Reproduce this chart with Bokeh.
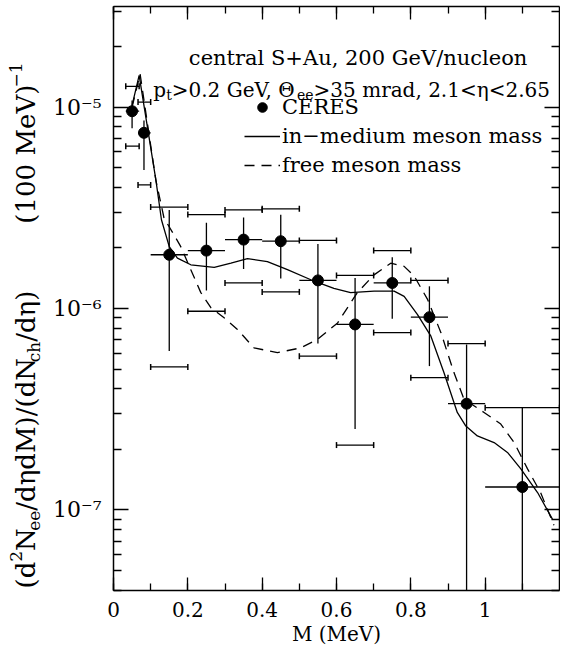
import math
from bokeh.plotting import figure
from bokeh.layouts import row
from bokeh.models import (ColumnDataSource, Range1d, LogAxis, LinearAxis, FixedTicker,
                          SingleIntervalTicker, CustomJSTickFormatter, Label, Legend, LegendItem)
from bokeh.core.properties import value
from bokeh.embed import file_html
from bokeh.resources import INLINE

# ---------------- data ----------------
mass    = [0.05, 0.082, 0.15, 0.25, 0.35, 0.45, 0.55, 0.65, 0.75, 0.85, 0.95, 1.10]
rate    = [9.55e-6, 7.46e-6, 1.85e-6, 1.94e-6, 2.20e-6, 2.16e-6, 1.38e-6, 8.34e-7, 1.34e-6, 9.06e-7, 3.37e-7, 1.30e-7]
stat_hi = [1.08e-5, 8.6e-6, 3.09e-6, 2.67e-6, 2.83e-6, 2.92e-6, 2.09e-6, 1.42e-6, 1.80e-6, 1.29e-6, 6.64e-7, 3.22e-7]
stat_lo = [7.87e-6, 4.88e-6, 6.15e-7, 1.23e-6, 1.57e-6, 1.41e-6, 6.70e-7, 2.52e-7, 8.90e-7, 5.18e-7, 1.0e-8, 1.0e-8]
sys_hi  = [1.27e-5, 1.06e-5, 3.19e-6, 2.93e-6, 3.09e-6, 3.13e-6, 2.18e-6, 1.46e-6, 1.94e-6, 1.38e-6, 6.70e-7, 3.22e-7]
sys_lo  = [6.4e-6, 4.11e-6, 5.13e-7, 9.7e-7, 1.34e-6, 1.21e-6, 5.8e-7, 2.1e-7, 7.6e-7, 4.54e-7, 1.0e-8, 1.0e-8]
bin_lo  = [0.033, 0.066, 0.10, 0.20, 0.30, 0.40, 0.50, 0.60, 0.70, 0.80, 0.90, 1.00]
bin_hi  = [0.069, 0.100, 0.20, 0.30, 0.40, 0.50, 0.60, 0.70, 0.80, 0.90, 1.00, 1.20]

inmed_m = [0.05, 0.069, 0.114, 0.129, 0.150, 0.172, 0.208, 0.271, 0.316, 0.3605, 0.414, 0.468,
           0.531, 0.593, 0.638, 0.701, 0.755, 0.782, 0.818, 0.854, 0.889, 0.925, 0.948, 0.979,
           1.024, 1.060, 1.096, 1.141, 1.181]
inmed_v = [1.02e-5, 1.44e-5, 4.36e-6, 2.76e-6, 2.03e-6, 1.78e-6, 1.65e-6, 1.60e-6, 1.68e-6, 1.77e-6,
           1.71e-6, 1.56e-6, 1.39e-6, 1.26e-6, 1.20e-6, 1.22e-6, 1.22e-6, 1.15e-6, 9.33e-7, 7.29e-7,
           4.81e-7, 3.05e-7, 2.61e-7, 2.33e-7, 2.16e-7, 1.93e-7, 1.60e-7, 1.22e-7, 9.0e-8]

free_m = [0.05, 0.0716, 0.1138, 0.136, 0.163, 0.181, 0.208, 0.235, 0.262, 0.2976, 0.3336, 0.378,
          0.441, 0.504, 0.549, 0.603, 0.656, 0.701, 0.746, 0.782, 0.809, 0.845, 0.881, 0.916,
          0.943, 0.997, 1.042, 1.078, 1.114, 1.149, 1.185]
free_v = [1.0e-5, 1.46e-5, 4.36e-6, 2.81e-6, 2.32e-6, 2.03e-6, 1.56e-6, 1.20e-6, 1.01e-6, 9.0e-7,
          7.87e-7, 6.38e-7, 6.04e-7, 6.38e-7, 7.03e-7, 8.49e-7, 1.20e-6, 1.47e-6, 1.68e-6, 1.62e-6,
          1.45e-6, 1.11e-6, 7.59e-7, 4.81e-7, 3.55e-7, 3.05e-7, 2.67e-7, 2.16e-7, 1.60e-7, 1.22e-7, 8.4e-8]

y_major_ticks = [1e-7, 1e-6, 1e-5]
y_minor_ticks = [k * 10.0 ** e for e in (-8, -7, -6, -5) for k in range(2, 10)]

title_line1 = "central S+Au, 200 GeV/nucleon"
cuts_pieces = [("p", "main"), ("t", "sub"), (">0.2 GeV, \u0398", "main"), ("ee", "sub"),
               (">35 mrad, 2.1<\u03b7<2.65", "main")]
ylabel_a = [("(d", "main"), ("2", "sup"), ("N", "main"), ("ee", "sub"), ("/d\u03b7dM)/(dN", "main"),
            ("ch", "sub"), ("/d\u03b7)", "main")]
ylabel_b = [("(100 MeV)", "main"), ("\u22121", "sup")]
x_title = "M (MeV)"

# ---------------- layout ----------------
FONT = "DejaVu Serif"
TOTAL_W, TOTAL_H = 560, 648
LW = 50                                   # width of the strip holding the rotated y title
FRAME_L, FRAME_T, FRAME_W, FRAME_H = 113, 6, 446, 584   # frame position in page pixels
BORDER_B = TOTAL_H - FRAME_T - FRAME_H
X_MIN, X_MAX = 0.0, 1.2
LOG_MIN, LOG_MAX = -7.4, -4.5


def dx(px):
    return X_MIN + (px - FRAME_L) / FRAME_W * (X_MAX - X_MIN)


def dy(py):
    return 10 ** (LOG_MAX - (py - FRAME_T) / FRAME_H * (LOG_MAX - LOG_MIN))


EM = {' ': .318, '(': .390, ')': .390, '/': .337, '.': .318, ',': .318, '+': .838, '<': .838,
      '>': .838, '\u2212': .838, '-': .338, 'A': .722, 'C': .733, 'E': .685, 'G': .778, 'M': .913,
      'N': .772, 'R': .770, 'S': .686, 'V': .722, '\u0398': .787, 'a': .602, 'c': .552, 'd': .641,
      'e': .593, 'h': .647, 'i': .320, 'l': .320, 'm': .968, 'n': .647, 'o': .602, 'p': .641,
      'r': .490, 's': .514, 't': .401, 'u': .647, '\u03b7': .647}
for ch_ in "0123456789":
    EM[ch_] = .636


def text_w(s, size):
    return sum(EM.get(c, .6) for c in s) * size


MAIN_W = TOTAL_W - LW
p = figure(width=MAIN_W, height=TOTAL_H, output_backend="svg", toolbar_location=None,
           x_range=Range1d(X_MIN, X_MAX), y_range=Range1d(10 ** LOG_MIN, 10 ** LOG_MAX),
           y_axis_type="log", min_border_left=FRAME_L - LW,
           min_border_right=MAIN_W - (FRAME_L - LW) - FRAME_W,
           min_border_top=FRAME_T, min_border_bottom=BORDER_B)
p.xgrid.visible = False
p.ygrid.visible = False
p.outline_line_color = None
p.background_fill_color = "white"
p.border_fill_color = "white"

x_fmt_code = "return String(Math.round(tick * 10) / 10);"
y_fmt_code = """
const e = Math.round(Math.log10(tick));
const m = {"-": "\\u207b", "0": "\\u2070", "1": "\\u00b9", "2": "\\u00b2", "3": "\\u00b3",
           "4": "\\u2074", "5": "\\u2075", "6": "\\u2076", "7": "\\u2077", "8": "\\u2078", "9": "\\u2079"};
return "10" + String(e).split("").map(c => m[c]).join("");
"""


def style_axis(ax, major, minor):
    ax.axis_line_color = "black"
    ax.axis_line_width = 1.5
    ax.major_tick_line_color = "black"
    ax.minor_tick_line_color = "black"
    ax.major_tick_line_width = 1.3
    ax.minor_tick_line_width = 1.3
    ax.major_tick_in = major
    ax.major_tick_out = 0
    ax.minor_tick_in = minor
    ax.minor_tick_out = 0
    ax.major_label_text_font = FONT
    ax.major_label_text_color = "black"


xa = p.xaxis[0]
xa.ticker = SingleIntervalTicker(interval=0.2, num_minor_ticks=2)
xa.formatter = CustomJSTickFormatter(code=x_fmt_code)
style_axis(xa, 13, 7)
xa.major_label_text_font_size = "20px"
xa.major_label_standoff = 11
xa.axis_label = x_title
xa.axis_label_text_font = FONT
xa.axis_label_text_font_size = "20px"
xa.axis_label_text_font_style = "normal"
xa.axis_label_text_color = "black"
xa.axis_label_standoff = 2

ya = p.yaxis[0]
ya.ticker = FixedTicker(ticks=y_major_ticks, minor_ticks=y_minor_ticks)
ya.formatter = CustomJSTickFormatter(code=y_fmt_code)
style_axis(ya, 15, 8)
ya.major_label_text_font_size = "22px"
ya.major_label_standoff = 12

ra = LogAxis(ticker=FixedTicker(ticks=y_major_ticks, minor_ticks=y_minor_ticks),
             formatter=CustomJSTickFormatter(code="return '';"))
style_axis(ra, 15, 8)
ra.major_label_text_font_size = "0px"
ra.major_label_standoff = 0
p.add_layout(ra, "right")

ta = LinearAxis(ticker=SingleIntervalTicker(interval=0.2, num_minor_ticks=2),
                formatter=CustomJSTickFormatter(code="return '';"))
style_axis(ta, 13, 7)
ta.major_label_text_font_size = "0px"
ta.major_label_standoff = 0
p.add_layout(ta, "above")

# ---------------- data glyphs ----------------
src = ColumnDataSource(dict(mass=mass, rate=rate, stat_hi=stat_hi, stat_lo=stat_lo,
                            sys_hi=sys_hi, sys_lo=sys_lo, bin_lo=bin_lo, bin_hi=bin_hi))
seg_kw = dict(source=src, line_color="black", line_width=1.3)
p.segment(x0="mass", y0="stat_lo", x1="mass", y1="stat_hi", **seg_kw)
p.segment(x0="bin_lo", y0="rate", x1="bin_hi", y1="rate", **seg_kw)
p.segment(x0="bin_lo", y0="sys_hi", x1="bin_hi", y1="sys_hi", **seg_kw)
p.segment(x0="bin_lo", y0="sys_lo", x1="bin_hi", y1="sys_lo", **seg_kw)
for xc, yc in (("bin_lo", "sys_hi"), ("bin_hi", "sys_hi"), ("bin_lo", "sys_lo"), ("bin_hi", "sys_lo")):
    p.scatter(x=xc, y=yc, source=src, marker="dash", angle=math.pi / 2, size=6,
              line_color="black", line_width=1.5)

r_inmed = p.line(inmed_m, inmed_v, line_color="black", line_width=1.3)
r_free = p.line(free_m, free_v, line_color="black", line_width=1.3, line_dash="10 7")
r_pts = p.scatter(x="mass", y="rate", source=src, size=11, fill_color="black", line_color="black")

# ---------------- legend ----------------
legend = Legend(items=[LegendItem(label="CERES", renderers=[r_pts]),
                       LegendItem(label="in\u2212medium meson mass", renderers=[r_inmed]),
                       LegendItem(label="free meson mass", renderers=[r_free])],
                location=(131, 413), label_text_font=FONT, label_text_font_size="21px",
                label_text_color="black", glyph_width=36, glyph_height=24, label_height=24,
                label_standoff=2, spacing=5, padding=0, margin=0, border_line_color=None,
                background_fill_alpha=0)
p.add_layout(legend)

# ---------------- texts in the frame ----------------
p.add_layout(Label(x=dx(357.6), y=dy(57), text=title_line1, text_font=FONT, text_font_size="21px",
                   text_align="center", text_baseline="alphabetic", text_color="black"))

SIZES = {"main": 20, "sub": 14, "sup": 14}
SHIFT = {"main": 0, "sub": 5, "sup": -8}
total = sum(text_w(t, SIZES[k]) for t, k in cuts_pieces)
cur = 352 - total / 2
for t, k in cuts_pieces:
    p.add_layout(Label(x=dx(cur), y=dy(89 + SHIFT[k]), text=t, text_font=FONT,
                       text_font_size=f"{SIZES[k]}px", text_align="left",
                       text_baseline="alphabetic", text_color="black"))
    cur += text_w(t, SIZES[k])

# ---------------- rotated y-axis title in its own strip ----------------
# the row aligns the frames, so give the strip the same top/bottom borders and
# a y range equal to "page pixels measured from the bottom"
yl = figure(width=LW, height=TOTAL_H, output_backend="svg", toolbar_location=None,
            x_range=Range1d(0, LW), y_range=Range1d(BORDER_B, TOTAL_H - FRAME_T),
            x_axis_location=None, y_axis_location=None, min_border_left=0, min_border_right=0,
            min_border_top=FRAME_T, min_border_bottom=BORDER_B)
yl.xgrid.visible = False
yl.ygrid.visible = False
yl.outline_line_color = None
yl.background_fill_color = "white"
yl.border_fill_color = "white"

YS = {"main": 26, "sub": 17, "sup": 17}
YCX = {"main": 25, "sub": 33, "sup": 15}


def column(pieces, start_py):
    cur_py = start_py
    for t, k in pieces:
        yl.text(x=[YCX[k]], y=[TOTAL_H - cur_py], text=[t], angle=math.pi / 2,
                text_font=value(FONT), text_font_size=value(f"{YS[k]}px"),
                text_align="left", text_baseline="middle", text_color="black")
        cur_py -= text_w(t, YS[k])


column(ylabel_a, 588)
len_b = sum(text_w(t, YS[k]) for t, k in ylabel_b)
column(ylabel_b, 62 + len_b)

layout = row(yl, p)
open("out.html", "w").write(file_html(layout, INLINE))
